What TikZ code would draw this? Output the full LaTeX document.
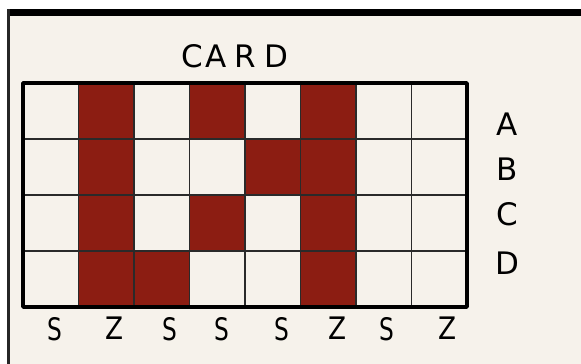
\documentclass[tikz,border=0pt]{standalone}
\usepackage{fontspec}
\setmainfont{DejaVu Sans}
\definecolor{cream}{HTML}{F6F2EB}
\definecolor{brick}{HTML}{8C1D12}
\definecolor{gridline}{HTML}{2A2A2A}
\begin{document}
\begin{tikzpicture}[x=1pt,y=-1pt,
  lbl/.style={font=\fontsize{31}{34}\selectfont, inner sep=0pt, anchor=center},
  cell/.style={fill=brick},
  inner/.style={draw=gridline, line width=1.4pt},
  outer/.style={draw=black, line width=3.5pt, line join=round}]
\useasboundingbox (0,0) rectangle (581,364);
\fill[white] (0,0) rectangle (581,364);
\fill[cream] (9,14) rectangle (581,364);
\fill[black] (7,9) rectangle (581,16);
\fill[black!85] (7,9) rectangle (10,364);
% cells: column i (0..7), row j (0..3)
\foreach \i/\j in {1/0,3/0,5/0, 1/1,4/1,5/1, 1/2,3/2,5/2, 1/3,2/3,5/3}{
  \fill[cell] ({23+\i*55.5},{83+\j*56}) rectangle ({23+(\i+1)*55.5},{83+(\j+1)*56});
}
\foreach \i in {1,...,7}{
  \draw[inner] ({23+\i*55.5},83) -- ({23+\i*55.5},307);
}
\foreach \j in {1,2,3}{
  \draw[inner] (23,{83+\j*56}) -- (467,{83+\j*56});
}
\draw[outer] (23,83) rectangle (467,307);
% title
\node[lbl] (c1) at (192,56) {C};
\node[lbl] (c2) at (216,56) {A};
\node[lbl] (c3) at (245,56) {R};
\node[lbl] (c4) at (276,56) {D};
% row labels
\node[lbl] (rA) at (507,124) {A};
\node[lbl] (rB) at (507,169) {B};
\node[lbl] (rC) at (507,214) {C};
\node[lbl] (rD) at (507,263) {D};
% column labels
\node[lbl] (k1) at (55,329) {\scalebox{0.75}[1]{S}};
\node[lbl] (k2) at (115,328) {\scalebox{0.85}[1]{Z}};
\node[lbl] (k3) at (170,329) {\scalebox{0.75}[1]{S}};
\node[lbl] (k4) at (222,329) {\scalebox{0.75}[1]{S}};
\node[lbl] (k5) at (282,329) {\scalebox{0.75}[1]{S}};
\node[lbl] (k6) at (338,328) {\scalebox{0.85}[1]{Z}};
\node[lbl] (k7) at (387,329) {\scalebox{0.75}[1]{S}};
\node[lbl] (k8) at (448,328) {\scalebox{0.85}[1]{Z}};
\end{tikzpicture}
\end{document}
